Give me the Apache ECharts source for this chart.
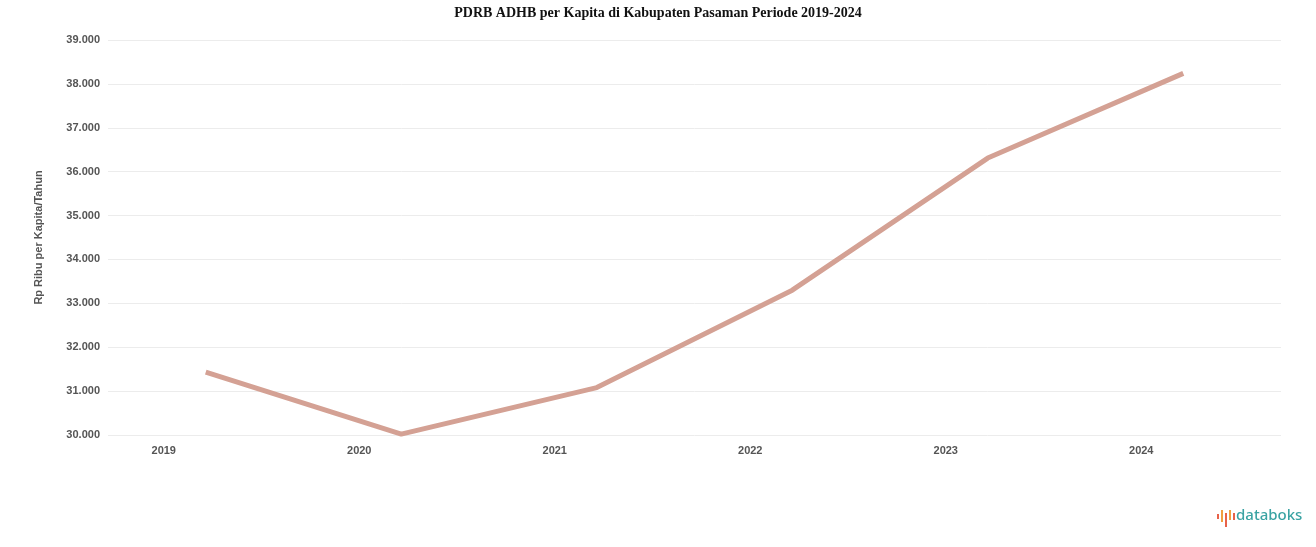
<!DOCTYPE html>
<html>
<head>
<meta charset="utf-8">
<script src="https://cdn.jsdelivr.net/npm/echarts@6/dist/echarts.min.js"></script>
<style>html,body{margin:0;padding:0;background:#fff}#c{width:1316px;height:547px}</style>
</head>
<body>
<div id="c"></div>
<script>
const title = 'PDRB ADHB per Kapita di Kabupaten Pasaman Periode 2019-2024';
const categories = ['2019', '2020', '2021', '2022', '2023', '2024'];
const values = [31430, 30020, 31080, 33300, 36310, 38240];
const yAxisName = 'Rp Ribu per Kapita/Tahun';
const yMin = 30000, yMax = 39000, yStep = 1000;

const chart = echarts.init(document.getElementById('c'));
chart.setOption({
  animation: false,
  backgroundColor: '#ffffff',
  title: {
    text: title, left: 'center', top: 1,
    textStyle: { fontFamily: 'Liberation Serif', fontWeight: 'bold', fontSize: 14, color: '#111' }
  },
  grid: { left: 108, right: 35, top: 40, bottom: 112 },
  xAxis: {
    type: 'category', data: categories, boundaryGap: true,
    axisLine: { show: false }, axisTick: { show: false },
    axisLabel: { color: '#555', fontSize: 11, fontWeight: 'bold', margin: 10, padding: [0, 84, 0, 0], fontFamily: 'Liberation Sans' }
  },
  yAxis: {
    type: 'value', min: yMin, max: yMax, interval: yStep,
    name: yAxisName, nameLocation: 'middle', nameGap: 64, nameRotate: 90,
    nameTextStyle: { color: '#555', fontSize: 11, fontWeight: 'bold', fontFamily: 'Liberation Sans' },
    axisLine: { show: false }, axisTick: { show: false },
    axisLabel: {
      color: '#555', fontSize: 11, fontWeight: 'bold', margin: 8, fontFamily: 'Liberation Sans',
      formatter: v => v.toLocaleString('de-DE')
    },
    splitLine: { lineStyle: { color: '#ececec', width: 1 } }
  },
  series: [{
    type: 'line', data: values, symbol: 'none',
    lineStyle: { color: '#d4a194', width: 5 }
  }],
  graphic: [
    { type: 'rect', shape: { x: 1217, y: 514, width: 2, height: 5 }, style: { fill: '#e8624a' } },
    { type: 'rect', shape: { x: 1221, y: 510, width: 2, height: 12 }, style: { fill: '#f0a040' } },
    { type: 'rect', shape: { x: 1225, y: 513, width: 2, height: 14 }, style: { fill: '#e8624a' } },
    { type: 'rect', shape: { x: 1229, y: 510, width: 2, height: 10 }, style: { fill: '#f0a040' } },
    { type: 'rect', shape: { x: 1233, y: 513, width: 2, height: 7 }, style: { fill: '#e8624a' } },
    { type: 'text', left: 1236, top: 508, style: { text: 'databoks', fill: '#3aa3a3', font: '500 15px "Noto Sans"' } }
  ]
});
</script>
</body>
</html>
